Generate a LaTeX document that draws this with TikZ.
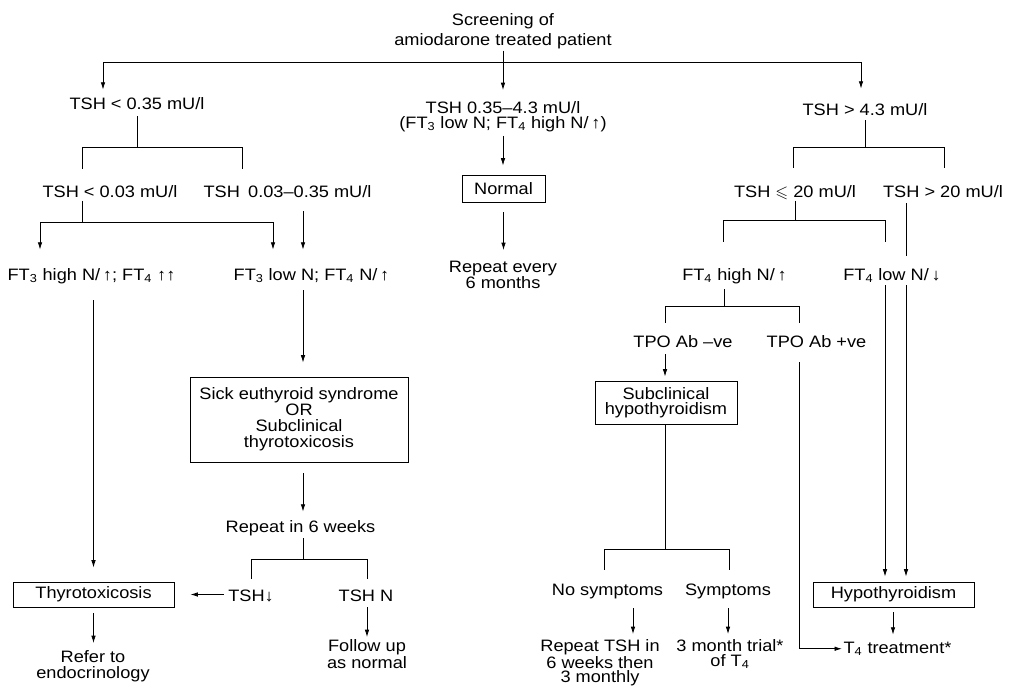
\documentclass[tikz,border=0pt]{standalone}
\usepackage{amssymb}
\usepackage{fontspec}
\setmainfont[FakeStretch=1.1]{Liberation Sans}
\usetikzlibrary{arrows.meta}
\begin{document}
\begin{tikzpicture}[x=0.75pt,y=-0.75pt,
  line width=0.6pt,
  arr/.style={-{Latex[length=5.5pt,width=3.4pt]}},
  t/.style={font=\fontsize{12.4}{15}\selectfont, inner xsep=1pt, inner ysep=0pt, text height=9pt, text depth=2.6pt, anchor=base},
  ml/.style={font=\fontsize{12.4}{#1}\selectfont, align=center, inner sep=0pt, anchor=north},
  ml/.default=11.25pt,
  box/.style={draw, line width=0.7pt, font=\fontsize{12.4}{#1}\selectfont, align=center, inner sep=0pt},
  box/.default=15pt]
\useasboundingbox (0,0) rectangle (1009,685);

% nodes
\node[ml=15pt] (title) at (503,13) {Screening of\\amiodarone treated patient};
\node[t] (tshL) at (137,109) {TSH < 0.35 mU/l};
\node[ml=11pt] (tshM) at (503,101) {TSH 0.35–4.3 mU/l\\(FT\textsubscript{3} low N; FT\textsubscript{4} high N/\,↑)};
\node[t] (tshR) at (865,115) {TSH > 4.3 mU/l};
\node[t] (tshLL) at (110,197) {TSH < 0.03 mU/l};
\node[t] (tshLR) at (287.5,197) {TSH\enspace0.03–0.35 mU/l};
\node[t] (tshRL) at (795,197) {TSH $\leqslant$ 20 mU/l};
\node[t] (tshRR) at (943,197) {TSH > 20 mU/l};
\node[box, minimum width=62.25pt, minimum height=20.25pt] (normal) at (503.5,188.5) {Normal};
\node[ml=11.6pt] (rep6m) at (503,261) {Repeat every\\6 months};
\node[t] (ft3h) at (91.5,280) {FT\textsubscript{3} high N/\,↑; FT\textsubscript{4} ↑↑};
\node[t] (ft3l) at (311.5,280) {FT\textsubscript{3} low N; FT\textsubscript{4} N/\,↑};
\node[t] (ft4h) at (734.5,280) {FT\textsubscript{4} high N/\,↑};
\node[t] (ft4l) at (892,280) {FT\textsubscript{4} low N/\,↓};
\node[t] (tpoN) at (683,347) {TPO Ab –ve};
\node[t] (tpoP) at (816.5,347) {TPO Ab +ve};
\node[box=12pt, minimum width=163.5pt, minimum height=63.75pt] (sick) at (299,419.5) {Sick euthyroid syndrome\\OR\\Subclinical\\thyrotoxicosis};
\node[box=11.2pt, minimum width=106.5pt, minimum height=32.25pt] (subc) at (666,403) {Subclinical\\hypothyroidism};
\node[t] (rep6w) at (300.5,532) {Repeat in 6 weeks};
\node[t] (tshD) at (251,601) {TSH↓};
\node[t] (tshN) at (366,601) {TSH N};
\node[box, minimum width=120.75pt, minimum height=18.75pt] (thyro) at (93.5,594.5) {Thyrotoxicosis};
\node[box, minimum width=120.75pt, minimum height=18.75pt] (hypo) at (893.5,594.5) {Hypothyroidism};
\node[t] (nosym) at (607.5,595) {No symptoms};
\node[t] (sym) at (728,595) {Symptoms};
\node[ml=12pt] (refer) at (93,650) {Refer to\\endocrinology};
\node[ml] (follow) at (367,639) {Follow up\\as normal};
\node[ml=11pt] (reptsh) at (600,639) {Repeat TSH in\\6 weeks then\\3 monthly};
\node[ml] (trial) at (730,639) {3 month trial*\\of T\textsubscript{4}};
\node[t] (t4) at (897.5,653) {T\textsubscript{4} treatment*};

% junctions
\coordinate (jtop) at (503,62);
\coordinate (bL) at (137,147);
\coordinate (bLL) at (82,222);
\coordinate (bW) at (303,559);
\coordinate (bR) at (865,147);
\coordinate (bRL) at (795,220);
\coordinate (bF) at (724,306);
\coordinate (bS) at (665,549);

% top
\draw[arr, shorten <=1.1pt, shorten >=8.25pt] (title.south) -- (tshM.north);
\draw[arr, shorten >=5.25pt] (jtop) -| (103,0 |- tshL.north);
\draw[arr, shorten >=10.5pt] (jtop) -| (861,0 |- tshR.north);

% left
\draw[shorten <=2.6pt] (tshL.south) -- (bL);
\draw[shorten >=12pt] (bL) -| (82,0 |- tshLL.north);
\draw[shorten >=12pt] (bL) -| (242,0 |- tshLR.north);
\draw (82,0 |- tshLL.south) -- (bLL);
\draw[arr, shorten >=13.5pt] (bLL) -| (40,0 |- ft3h.north);
\draw[arr, shorten >=13.5pt] (bLL) -| (273,0 |- ft3l.north);
\draw[arr, shorten <=7.9pt, shorten >=13.5pt] (303,0 |- tshLR.south) -- (303,0 |- ft3l.north);
\draw[arr, shorten <=12.4pt, shorten >=10.5pt] (thyro.north |- ft3h.south) -- (thyro.north);
\draw[arr, shorten <=4.9pt, shorten >=10.5pt] (303,0 |- ft3l.south) -- (303,0 |- sick.north);
\draw[arr, shorten <=8.25pt, shorten >=6pt] (303,0 |- sick.south) -- (303,0 |- rep6w.north);
\draw[shorten <=1.9pt] (303,0 |- rep6w.south) -- (bW);
\draw[shorten >=7.5pt] (bW) -| (tshD.north);
\draw[shorten >=7.5pt] (bW) -| (367,0 |- tshN.north);
\draw[arr, shorten <=2pt, shorten >=12pt] (tshD.west |- thyro.east) -- (thyro.east);
\draw[arr, shorten <=1.9pt, shorten >=1.5pt] (367,0 |- tshN.south) -- (367,0 |- follow.north);
\draw[arr, shorten <=4.5pt, shorten >=5.25pt] (thyro.south) -- (thyro.south |- refer.north);

% middle
\draw[arr, shorten <=3pt, shorten >=6.75pt] (tshM.south) -- (tshM.south |- normal.north);
\draw[arr, shorten <=7.5pt, shorten >=8.25pt] (normal.south) -- (normal.south |- rep6m.north);

% right
\draw[shorten <=1.1pt] (tshR.south) -- (bR);
\draw[shorten >=12.75pt] (bR) -| (793,0 |- tshRL.north);
\draw[shorten >=12.75pt] (bR) -| (944,0 |- tshRR.north);
\draw (tshRL.south) -- (bRL);
\draw[shorten >=19.5pt] (bRL) -| (723,0 |- ft4h.north);
\draw[shorten >=19.5pt] (bRL) -| (885,0 |- ft4l.north);
\draw[shorten <=1.9pt, shorten >=9pt] (906,0 |- tshRR.south) -- (906,0 |- ft4l.north);
\draw[arr, shorten <=1.1pt, shorten >=3.75pt] (885,0 |- ft4l.south) -- (885,0 |- hypo.north);
\draw[arr, shorten <=1.1pt, shorten >=3.75pt] (906,0 |- ft4l.south) -- (906,0 |- hypo.north);
\draw[shorten <=4.1pt] (724,0 |- ft4h.south) -- (bF);
\draw[shorten >=9pt] (bF) -| (665,0 |- tpoN.north);
\draw[shorten >=9pt] (bF) -| (799,0 |- tpoP.north);
\draw[arr, shorten <=2.6pt, shorten >=3.4pt] (665,0 |- tpoN.south) -- (665,0 |- subc.north);
\draw[arr, shorten <=8.6pt] (799,0 |- tpoP.south) |- (t4.west);
\draw (665,0 |- subc.south) -- (bS);
\draw[shorten >=9.75pt] (bS) -| (604,0 |- nosym.north);
\draw[shorten >=9.75pt] (bS) -| (729,0 |- sym.north);
\draw[arr, shorten <=7.1pt, shorten >=3.75pt] (633,0 |- nosym.south) -- (633,0 |- reptsh.north);
\draw[arr, shorten <=7.1pt, shorten >=3.75pt] (728,0 |- sym.south) -- (728,0 |- trial.north);
\draw[arr, shorten <=3.75pt, shorten >=4.5pt] (893,0 |- hypo.south) -- (893,0 |- t4.north);
\end{tikzpicture}
\end{document}
